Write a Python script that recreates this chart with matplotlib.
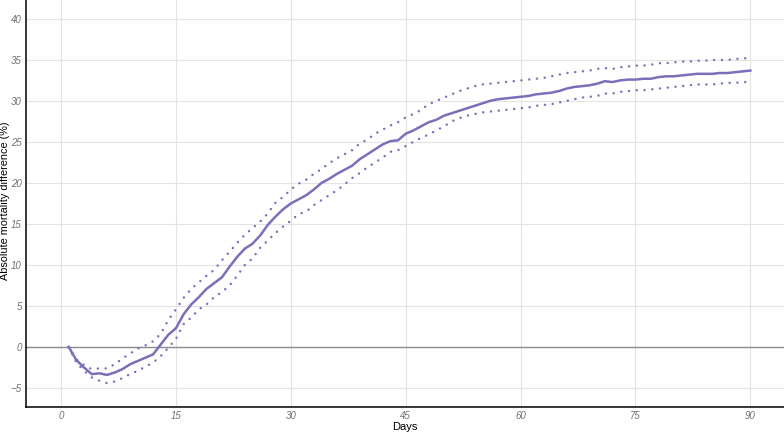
import numpy as np
import matplotlib.pyplot as plt

plt.rcParams['font.family'] = ['Liberation Sans', 'DejaVu Sans']

# days since start
days = np.arange(1, 91)

# absolute mortality difference (%), point estimate
diff = [0, -1.6, -2.5, -3.3, -3.2, -3.4, -3.1, -2.7, -2.1, -1.7,
        -1.3, -0.9, 0.3, 1.5, 2.3, 4.0, 5.2, 6.1, 7.1, 7.8,
        8.5, 9.8, 11.0, 12.0, 12.6, 13.6, 14.9, 15.9, 16.8, 17.5,
        18.0, 18.5, 19.2, 20.0, 20.5, 21.1, 21.6, 22.1, 22.9, 23.5,
        24.1, 24.7, 25.1, 25.2, 26.0, 26.4, 26.9, 27.4, 27.7, 28.2,
        28.5, 28.8, 29.1, 29.4, 29.7, 30.0, 30.2, 30.3, 30.4, 30.5,
        30.6, 30.8, 30.9, 31.0, 31.2, 31.5, 31.7, 31.8, 31.9, 32.1,
        32.4, 32.3, 32.5, 32.6, 32.6, 32.7, 32.7, 32.9, 33.0, 33.0,
        33.1, 33.2, 33.3, 33.3, 33.3, 33.4, 33.4, 33.5, 33.6, 33.7]

# upper confidence bound
upper = [0, -1.5, -2.2, -2.7, -2.6, -2.6, -2.1, -1.4, -0.8, -0.2,
         0.2, 0.7, 1.6, 3.3, 4.6, 6.0, 7.1, 7.9, 8.7, 9.4,
         10.6, 11.6, 12.7, 13.7, 14.5, 15.3, 16.3, 17.6, 18.3, 19.2,
         19.9, 20.4, 21.1, 21.7, 22.4, 23.0, 23.5, 24.0, 24.8, 25.3,
         26.0, 26.5, 27.0, 27.4, 28.0, 28.4, 28.9, 29.6, 30.0, 30.4,
         30.8, 31.2, 31.5, 31.8, 32.0, 32.1, 32.2, 32.3, 32.4, 32.5,
         32.6, 32.7, 32.8, 33.0, 33.2, 33.4, 33.5, 33.6, 33.7, 33.9,
         34.0, 33.9, 34.1, 34.2, 34.3, 34.3, 34.4, 34.6, 34.6, 34.7,
         34.8, 34.8, 34.9, 34.9, 35.0, 35.0, 35.0, 35.1, 35.2, 35.2]

# lower confidence bound
lower = [0, -1.9, -2.9, -3.7, -4.1, -4.4, -4.2, -3.8, -3.3, -2.9,
         -2.4, -1.9, -1.1, -0.1, 1.0, 2.8, 3.6, 4.6, 5.2, 6.1,
         6.7, 7.5, 8.7, 10.0, 10.8, 12.1, 13.0, 13.9, 14.7, 15.4,
         16.2, 16.5, 17.3, 17.9, 18.5, 19.1, 19.8, 20.6, 21.2, 21.9,
         22.5, 23.1, 23.8, 24.0, 24.5, 25.0, 25.5, 25.9, 26.4, 26.9,
         27.5, 27.9, 28.2, 28.4, 28.6, 28.7, 28.8, 28.9, 29.0, 29.1,
         29.2, 29.4, 29.5, 29.6, 29.8, 30.0, 30.2, 30.4, 30.5, 30.6,
         30.9, 30.9, 31.1, 31.2, 31.3, 31.3, 31.4, 31.5, 31.6, 31.7,
         31.8, 31.9, 32.0, 32.0, 32.0, 32.1, 32.2, 32.2, 32.3, 32.3]

x_ticks = [0, 15, 30, 45, 60, 75, 90]
y_ticks = [-5, 0, 5, 10, 15, 20, 25, 30, 35, 40]

col = '#7a6fb9'

fig = plt.figure(figsize=(7.84, 4.32), dpi=100)
ax = fig.add_axes([0.033, 0.058, 0.967, 0.942])

ax.axhline(0, color='#8c8c8c', lw=1.0, zorder=1)
ax.plot(days, diff, color=col, lw=1.8, zorder=3)
for band in (upper, lower):
    ax.plot(days, band, color=col, lw=1.8, zorder=3,
            linestyle=(0, (0.01, 3.1)), dash_capstyle='round')

ax.set_xlim(-4.6, 94.4)
ax.set_ylim(-7.3, 42.3)
ax.set_xticks(x_ticks)
ax.set_yticks(y_ticks)
ax.grid(True, color='#e3e3e3', lw=0.8)
ax.set_axisbelow(True)

for s in ('top', 'right'):
    ax.spines[s].set_visible(False)
for s in ('left', 'bottom'):
    ax.spines[s].set_color('black')
    ax.spines[s].set_linewidth(1.1)

ax.tick_params(length=0, pad=3, labelsize=7, labelcolor='#707070')
for lab in ax.get_xticklabels() + ax.get_yticklabels():
    lab.set_fontstyle('italic')

ax.set_xlabel('Days', fontsize=8, labelpad=1)
fig.text(0.007, 0.535, 'Absolute mortality difference (%)', fontsize=7.8,
         rotation=90, ha='center', va='center')

fig.savefig('out.png', dpi=100)
